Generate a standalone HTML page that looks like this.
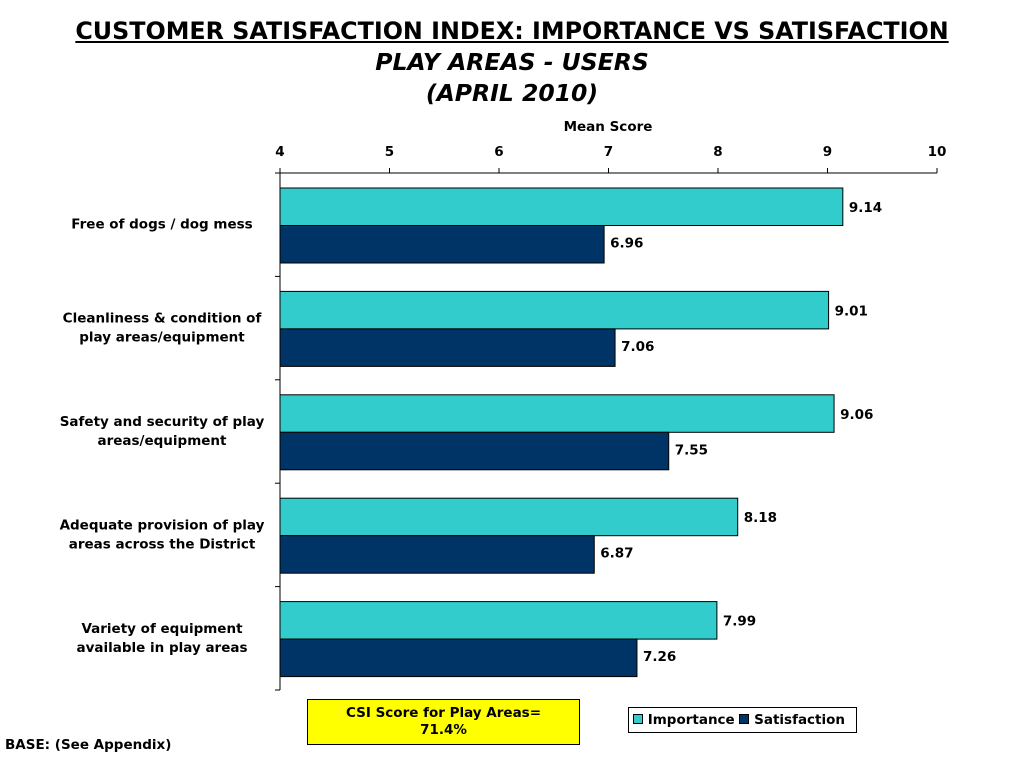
<!DOCTYPE html>
<html><head><meta charset="utf-8"><style>
body{margin:0;width:1024px;height:768px;background:#fff;font-family:"DejaVu Sans","Liberation Sans",sans-serif;position:relative;overflow:hidden}
.t{position:absolute;left:0;width:1024px;text-align:center;font-weight:bold;color:#000}
</style></head><body>
<div class="t" style="top:17px;font-size:23.8px;text-decoration:underline">CUSTOMER SATISFACTION INDEX: IMPORTANCE VS SATISFACTION</div>
<div class="t" style="top:48px;font-size:23.5px;font-style:italic">PLAY AREAS - USERS</div>
<div class="t" style="top:79px;font-size:23.5px;font-style:italic">(APRIL 2010)</div>
<svg id="c" width="1024" height="768" style="position:absolute;left:0;top:0"></svg>
<div style="position:absolute;left:307px;top:699px;width:273px;height:46px;background:#ffff00;border:1px solid #000;text-align:center;font-weight:bold;font-size:13.5px;line-height:17px;padding-top:5px;box-sizing:border-box;">CSI Score for Play Areas=<br>71.4%</div>
<div style="position:absolute;left:628px;top:707px;width:229px;height:26px;border:1px solid #000;box-sizing:border-box;font-weight:bold;font-size:13.5px;line-height:24px;padding-left:4px;white-space:nowrap">
<span><span style="display:inline-block;width:8px;height:8px;background:#33cccc;border:1px solid #000"></span> Importance</span>
<span><span style="display:inline-block;width:8px;height:8px;background:#003366;border:1px solid #000"></span> Satisfaction</span>
</div>
<div style="position:absolute;left:5px;top:737px;font-weight:bold;font-size:13.5px">BASE: (See Appendix)</div>
<script>
const categories=[["Free of dogs / dog mess"],["Cleanliness & condition of","play areas/equipment"],["Safety and security of play","areas/equipment"],["Adequate provision of play","areas across the District"],["Variety of equipment","available in play areas"]];
const importance=[9.14,9.01,9.06,8.18,7.99];
const satisfaction=[6.96,7.06,7.55,6.87,7.26];
const ticks=[4,5,6,7,8,9,10];
const svg=document.getElementById('c');const NS='http://www.w3.org/2000/svg';
const x0=280,x1=937,yTop=173,yBot=690;
const xs=v=>x0+(v-4)/6*(x1-x0);
const band=(yBot-yTop)/categories.length;
function mk(t,a,txt){const e=document.createElementNS(NS,t);for(const k in a)e.setAttribute(k,a[k]);if(txt!=null)e.textContent=txt;svg.appendChild(e);return e;}
let e=mk('line',{x1:x0,y1:yTop,x2:x1,y2:yTop,stroke:'#000'});
e=mk('line',{x1:x0,y1:yTop,x2:x0,y2:yBot,stroke:'#000'});
e=mk('text',{x:608,y:131,'text-anchor':'middle','font-size':13.5,'font-weight':'bold'},'Mean Score');
ticks.forEach(t=>{mk('line',{x1:xs(t),y1:yTop-5,x2:xs(t),y2:yTop,stroke:'#000'});
 const l=mk('text',{x:xs(t),y:156,'text-anchor':'middle','font-size':13.5,'font-weight':'bold'},t);});
for(let i=0;i<=categories.length;i++){mk('line',{x1:x0-5,y1:yTop+i*band,x2:x0,y2:yTop+i*band,stroke:'#000'});}
categories.forEach((c,i)=>{
 const b=yTop+i*band, bh=37.5, y1=b+15;
 let r=mk('rect',{x:x0,y:y1,width:xs(importance[i])-x0,height:bh,fill:'#33cccc',stroke:'#000','stroke-width':1});
 
 r=mk('rect',{x:x0,y:y1+bh,width:xs(satisfaction[i])-x0,height:bh,fill:'#003366',stroke:'#000','stroke-width':1});
 
 let l=mk('text',{x:xs(importance[i])+6,y:y1+24,'font-size':13.5,'font-weight':'bold'},importance[i].toFixed(2));
 l=mk('text',{x:xs(satisfaction[i])+6,y:y1+bh+22,'font-size':13.5,'font-weight':'bold'},satisfaction[i].toFixed(2));
 const cy=b+band/2-(c.length-1)*9.5+4;
 c.forEach((ln,j)=>{const t=mk('text',{x:162,y:cy+j*19,'text-anchor':'middle','font-size':13.5,'font-weight':'bold'},ln);});
});
</script>
</body></html>
